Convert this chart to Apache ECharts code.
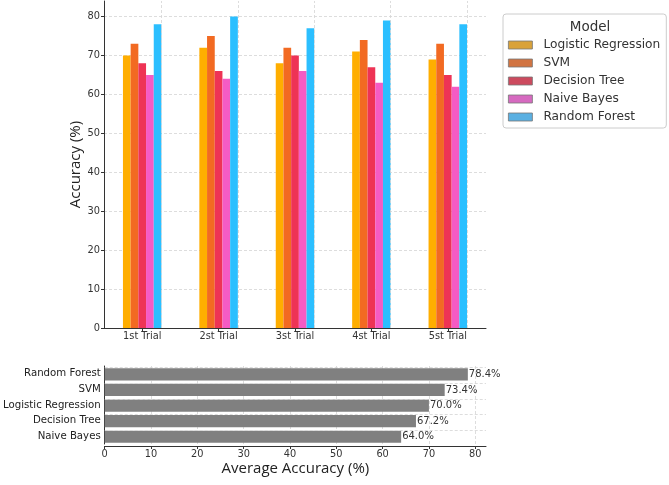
<!DOCTYPE html>
<html>
<head>
<meta charset="utf-8">
<script src="https://cdn.jsdelivr.net/npm/echarts@6/dist/echarts.min.js"></script>
<style>html,body{margin:0;padding:0;background:#fff;}#c{width:669px;height:485px;}</style>
</head>
<body>
<div id="c"></div>
<script>
var trials = ['1st Trial', '2st Trial', '3st Trial', '4st Trial', '5st Trial'];
var models = ['Logistic Regression', 'SVM', 'Decision Tree', 'Naive Bayes', 'Random Forest'];
var logisticRegression = [70, 72, 68, 71, 69];
var svm = [73, 75, 72, 74, 73];
var decisionTree = [68, 66, 70, 67, 65];
var naiveBayes = [65, 64, 66, 63, 62];
var randomForest = [78, 80, 77, 79, 78];
var avgModels = ['Naive Bayes', 'Decision Tree', 'Logistic Regression', 'SVM', 'Random Forest'];
var avgValues = [64.0, 67.2, 70.0, 73.4, 78.4];

var barColors = ['#FFAE00', '#F26A22', '#EE3355', '#F55BC4', '#2BBFFF'];
var legendColors = ['#D9A23A', '#D17442', '#CC4A5E', '#D66AC0', '#5AB0E2'];
var seriesData = [logisticRegression, svm, decisionTree, naiveBayes, randomForest];

var tickFont = 'DejaVu Sans';
var dashed = {color: '#d4d4d4', type: [3, 2], width: 0.8};

var series = models.map(function (m, i) {
  return {
    name: m, type: 'bar', xAxisIndex: 0, yAxisIndex: 0,
    data: seriesData[i], barWidth: 7.7, barGap: '0%',
    itemStyle: {color: barColors[i]}, z: 2
  };
});
// vertical gridlines at trial centers
series.push({
  type: 'bar', xAxisIndex: 0, yAxisIndex: 0, data: [], z: 3, silent: true,
  markLine: {
    silent: true, symbol: 'none', label: {show: false},
    lineStyle: {color: '#d4d4d4', type: [3, 2], width: 0.8},
    data: trials.map(function (t) { return {xAxis: t}; })
  }
});
// horizontal gridlines at model centers (behind bars)
series.push({
  type: 'bar', xAxisIndex: 1, yAxisIndex: 1, data: [], z: 1, silent: true,
  markLine: {
    silent: true, symbol: 'none', label: {show: false},
    lineStyle: {color: '#d4d4d4', type: [3, 2], width: 0.8},
    data: avgModels.map(function (t) { return {yAxis: t}; })
  }
});
series.push({
  type: 'bar', xAxisIndex: 1, yAxisIndex: 1, data: avgValues,
  barWidth: 12.2, itemStyle: {color: '#808080'}, z: 2,
  label: {show: true, position: 'right', distance: 1, color: '#333',
    fontFamily: tickFont, fontSize: 10,
    formatter: function (p) { return p.value.toFixed(1) + '%'; }}
});

var option = {
  animation: false,
  backgroundColor: '#fff',
  title: {
    text: 'Model', left: 585, top: 15, textAlign: 'center',
    textStyle: {fontFamily: tickFont, fontSize: 13.5, fontWeight: 'normal', color: '#333'}
  },
  legend: {
    orient: 'vertical', left: 503, top: 14,
    padding: [25, 6, 5, 5],
    backgroundColor: '#fff', borderColor: '#cccccc', borderWidth: 1, borderRadius: 3,
    itemWidth: 24, itemHeight: 8, itemGap: 6,
    icon: 'rect',
    textStyle: {fontFamily: tickFont, fontSize: 12.2, color: '#333', padding: [0, 0, 0, 6]},
    data: models.map(function (m, i) {
      return {name: m, itemStyle: {color: legendColors[i], borderColor: '#777', borderWidth: 0.8}};
    })
  },
  grid: [
    {left: 104, right: 183, top: 1, bottom: 157},
    {left: 104, right: 183, top: 366, bottom: 41}
  ],
  xAxis: [
    {
      type: 'category', gridIndex: 0, data: trials, boundaryGap: true,
      axisLine: {lineStyle: {color: '#333', width: 1}},
      axisTick: {show: true, alignWithLabel: true, length: 3, lineStyle: {color: '#333'}},
      axisLabel: {fontFamily: tickFont, fontSize: 9.8, color: '#333', margin: 3},
      splitLine: {show: false}
    },
    {
      type: 'value', gridIndex: 1, min: 0, max: 82.32, interval: 10, offset: 2,
      name: 'Average Accuracy (%)', nameLocation: 'middle', nameGap: 15,
      nameTextStyle: {fontFamily: 'Open Sans', fontSize: 15, color: '#222'},
      axisLine: {show: true, lineStyle: {color: '#333', width: 1}},
      axisTick: {show: true, length: 3, lineStyle: {color: '#333'}},
      axisLabel: {fontFamily: tickFont, fontSize: 9.8, color: '#333', margin: 3, showMaxLabel: false},
      splitLine: {show: true, showMaxLine: false, lineStyle: dashed}
    }
  ],
  yAxis: [
    {
      type: 'value', gridIndex: 0, min: 0, max: 84, interval: 10,
      name: 'Accuracy (%)', nameLocation: 'middle', nameGap: 21, nameMoveOverlap: false,
      nameTextStyle: {fontFamily: 'Open Sans', fontSize: 15, color: '#222'},
      axisLine: {show: true, lineStyle: {color: '#333', width: 1}},
      axisTick: {show: true, length: 3, lineStyle: {color: '#333'}},
      axisLabel: {fontFamily: tickFont, fontSize: 9.8, color: '#333', margin: 4, showMaxLabel: false},
      splitLine: {show: true, showMaxLine: false, lineStyle: dashed}
    },
    {
      type: 'category', gridIndex: 1, data: avgModels, boundaryGap: true,
      axisLine: {show: true, lineStyle: {color: '#333', width: 1}},
      axisTick: {show: false},
      axisLabel: {fontFamily: tickFont, fontSize: 10.2, color: '#222', margin: 4},
      splitLine: {show: false}
    }
  ],
  series: series
};
var chart = echarts.init(document.getElementById('c'), null, {renderer: 'canvas'});
chart.setOption(option);
</script>
</body>
</html>
